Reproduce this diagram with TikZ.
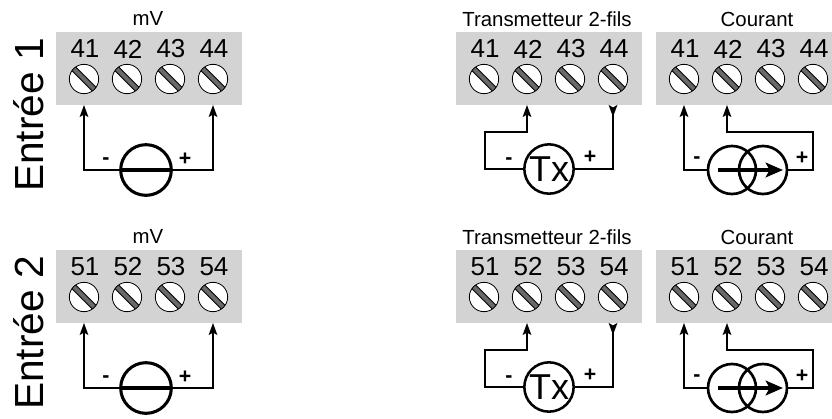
\documentclass[tikz,border=0pt]{standalone}
\usepackage{fontspec}
\setmainfont{Liberation Sans}
\usetikzlibrary{arrows.meta}
\definecolor{boxgray}{RGB}{211,211,212}
\definecolor{slotgray}{RGB}{105,105,105}
\begin{document}
\begin{tikzpicture}[x=0.75pt,y=-0.75pt,
  termbox/.style={fill=boxgray, anchor=north west, minimum width=139.5pt, minimum height=54.75pt, inner sep=0, outer sep=0},
  screw/.style={circle, draw, line width=0.6pt, fill=white, minimum size=22pt, inner sep=0,
     path picture={\draw[line width=4.6pt] (path picture bounding box.north west) -- (path picture bounding box.south east);
                   \draw[line width=3pt, slotgray] (path picture bounding box.north west) -- (path picture bounding box.south east);}},
  num/.style={font=\fontsize{19.5}{19.5}\selectfont, inner sep=0},
  title/.style={font=\fontsize{15.3}{15.3}\selectfont, inner sep=0, anchor=base},
  entree/.style={rotate=90, anchor=base, font=\fontsize{30.5}{30.5}\selectfont, inner sep=0},
  wire/.style={line width=1pt},
  up/.style={-{Stealth[length=9pt,width=6.5pt,inset=1.8pt]}},
  down/.style={-{Stealth[length=9pt,width=6.5pt,inset=1.8pt,reversed]}},
  sign/.style={font=\bfseries\fontsize{16}{16}\selectfont, inner sep=0},
  mvsrc/.style={circle, draw, line width=2.3pt, minimum size=38pt, inner sep=0, fill=white,
     path picture={\draw[line width=3.2pt] (path picture bounding box.west) -- (path picture bounding box.east);}},
  txsrc/.style={circle, draw, line width=1.9pt, minimum size=37pt, inner sep=0, fill=white, font=\fontsize{27}{27}\selectfont},
  csrc/.style={circle, draw, line width=2pt, minimum size=36pt, inner sep=0},
  bigarrow/.style={line width=3pt, -{Stealth[length=13pt,width=11pt,inset=3pt]}}
]
\useasboundingbox (0,0) rectangle (832,418);
\clip (0,0) rectangle (832,418);
\foreach \r/\dy/\n in {1/0/4,2/218/5}{
  \node[entree] (en\r) at (43,{115+\dy}) {Entrée \r};
  \node[termbox] (bA\r) at (56,{32+\dy}) {};
  \node[termbox] (bB\r) at (456,{32+\dy}) {};
  \node[termbox] (bC\r) at (656,{32+\dy}) {};
  \node[title] (tA\r) at (148,{25+\dy}) {mV};
  \node[title] (tB\r) at (547,{26+\dy}) {Transmetteur 2-fils};
  \node[title] (tC\r) at (757,{26+\dy}) {Courant};
  \foreach \p/\bx in {A/56,B/456,C/656}{
    \foreach \k/\ox in {1/28,2/71,3/114,4/157}{
      \node[screw] (s\p\r\k) at ({\bx+\ox},{79+\dy}) {};
      \node[num] (n\p\r\k) at ({\bx+\ox+1},{49+\dy}) {\n\k};
    }
  }
  % mV source
  \node[mvsrc] (mv\r) at (146,{170+\dy}) {};
  \draw[wire, up] (mv\r.west) -| (sA\r1 |- bA\r.south);
  \draw[wire, up] (mv\r.east) -| (sA\r4 |- bA\r.south);
  \node[sign] (mA\r) at (106,{161+\dy}) {-};
  \node[sign] (pA\r) at (185,{159+\dy}) {+};
  % transmitter
  \node[txsrc] (tx\r) at (549,{169+\dy}) {Tx};
  \coordinate (tk\r) at (485,{132+\dy});
  \draw[wire, up] (tx\r.west) -| (tk\r) -| (sB\r2 |- bB\r.south);
  \draw[wire, down] (tx\r.east) -| (sB\r4 |- bB\r.south);
  \node[sign] (mB\r) at (509,{161+\dy}) {-};
  \node[sign] (pB\r) at (590,{157+\dy}) {+};
  % current source
  \node[csrc] (ca\r) at (732,{170+\dy}) {};
  \node[csrc] (cb\r) at (763,{170+\dy}) {};
  \draw[bigarrow] ([xshift=-10.5pt]ca\r.center) -- ([xshift=15pt]cb\r.center);
  \coordinate (ck\r) at (813,{132+\dy});
  \draw[wire, up] (ca\r.west) -| (sC\r1 |- bC\r.south);
  \draw[wire, up] (cb\r.east) -| (ck\r) -| (sC\r2 |- bC\r.south);
  \node[sign] (mC\r) at (697,{160+\dy}) {-};
  \node[sign] (pC\r) at (802,{158+\dy}) {+};
}
\end{tikzpicture}
\end{document}
